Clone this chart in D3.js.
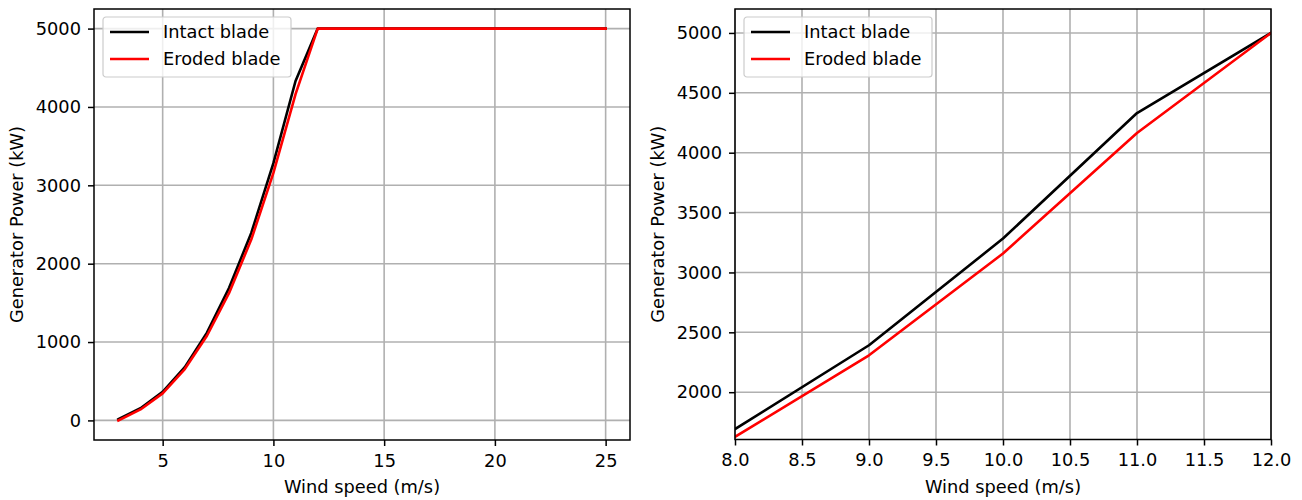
<!DOCTYPE html>
<html>
<head>
<meta charset="utf-8">
<script src="https://cdn.jsdelivr.net/npm/d3@7"></script>
<style>
  body { margin: 0; background: #fff; }
  svg { display: block; font-family: "DejaVu Sans", sans-serif; }
</style>
</head>
<body>
<div id="chart"></div>
<script>
// wind speed samples (m/s)
const windSpeed = [3, 4, 5, 6, 7, 8, 9, 10, 11, 12, 13, 14, 15, 16, 17, 18, 19, 20, 21, 22, 23, 24, 25];

// generator power (kW)
const intactPower = [15, 155, 365, 680, 1120, 1692, 2392, 3283, 4331, 5000, 5000, 5000, 5000, 5000, 5000, 5000, 5000, 5000, 5000, 5000, 5000, 5000, 5000];
const erodedPower = [0, 140, 345, 655, 1080, 1627, 2308, 3158, 4164, 5000, 5000, 5000, 5000, 5000, 5000, 5000, 5000, 5000, 5000, 5000, 5000, 5000, 5000];

const seriesNames = ["Intact blade", "Eroded blade"];
const seriesColors = ["#000000", "#ff0000"];

const leftXTicks = [5, 10, 15, 20, 25];
const leftYTicks = [0, 1000, 2000, 3000, 4000, 5000];
const rightXTicks = [8.0, 8.5, 9.0, 9.5, 10.0, 10.5, 11.0, 11.5, 12.0];
const rightYTicks = [2000, 2500, 3000, 3500, 4000, 4500, 5000];

const W = 1302, H = 500;
const FONT = 17.8;

const svg = d3.select("#chart").append("svg")
    .attr("width", W)
    .attr("height", H);

const series = [
    { name: seriesNames[0], color: seriesColors[0], values: intactPower },
    { name: seriesNames[1], color: seriesColors[1], values: erodedPower }
];

function drawPanel(box, xDomain, yDomain, xTicks, yTicks, xFmt) {
    const x = d3.scaleLinear().domain(xDomain).range([box.left, box.right]);
    const y = d3.scaleLinear().domain(yDomain).range([box.bottom, box.top]);

    const clipId = "clip" + box.left;
    svg.append("defs").append("clipPath").attr("id", clipId)
        .append("rect")
        .attr("x", box.left).attr("y", box.top)
        .attr("width", box.right - box.left)
        .attr("height", box.bottom - box.top);

    // grid
    const grid = svg.append("g").attr("stroke", "#b0b0b0").attr("stroke-width", 1.6);
    grid.selectAll(".gx").data(xTicks).enter().append("line")
        .attr("x1", d => x(d)).attr("x2", d => x(d))
        .attr("y1", box.top).attr("y2", box.bottom);
    grid.selectAll(".gy").data(yTicks).enter().append("line")
        .attr("x1", box.left).attr("x2", box.right)
        .attr("y1", d => y(d)).attr("y2", d => y(d));

    // curves
    const line = d3.line()
        .x((d, i) => x(windSpeed[i]))
        .y(d => y(d));
    svg.append("g").attr("clip-path", `url(#${clipId})`)
        .selectAll("path").data(series).enter().append("path")
        .attr("d", d => line(d.values))
        .attr("fill", "none")
        .attr("stroke", d => d.color)
        .attr("stroke-width", 2.6)
        .attr("stroke-linecap", "square")
        .attr("stroke-linejoin", "round");

    // axes
    const xAxis = svg.append("g")
        .attr("transform", `translate(0,${box.bottom})`)
        .call(d3.axisBottom(x).tickValues(xTicks).tickFormat(xFmt).tickSize(6).tickPadding(8).tickSizeOuter(0));
    const yAxis = svg.append("g")
        .attr("transform", `translate(${box.left},0)`)
        .call(d3.axisLeft(y).tickValues(yTicks).tickFormat(d3.format("d")).tickSize(6).tickPadding(7).tickSizeOuter(0));
    [xAxis, yAxis].forEach(a => {
        a.select(".domain").remove();
        a.selectAll("line").attr("stroke", "#000").attr("stroke-width", 1.5);
        a.selectAll("text").attr("fill", "#000")
            .style("font-family", "DejaVu Sans").style("font-size", FONT + "px");
    });

    // spines
    svg.append("rect")
        .attr("x", box.left).attr("y", box.top)
        .attr("width", box.right - box.left)
        .attr("height", box.bottom - box.top)
        .attr("fill", "none")
        .attr("stroke", "#000")
        .attr("stroke-width", 1.5);

    // labels
    svg.append("text")
        .attr("x", (box.left + box.right) / 2)
        .attr("y", 493)
        .attr("text-anchor", "middle")
        .style("font-size", FONT + "px")
        .text("Wind speed (m/s)");
    svg.append("text")
        .attr("transform", `translate(${box.left - 71},${(box.top + box.bottom) / 2}) rotate(-90)`)
        .attr("text-anchor", "middle")
        .style("font-size", FONT + "px")
        .text("Generator Power (kW)");

    // legend
    const lg = svg.append("g").attr("transform", `translate(${box.left + 9},${box.top + 8})`);
    lg.append("rect")
        .attr("width", 188).attr("height", 60)
        .attr("rx", 3)
        .attr("fill", "#fff").attr("fill-opacity", 0.8)
        .attr("stroke", "#cccccc").attr("stroke-width", 1.2);
    series.forEach((s, i) => {
        const yy = 15 + i * 27;
        lg.append("line")
            .attr("x1", 7).attr("x2", 46)
            .attr("y1", yy).attr("y2", yy)
            .attr("stroke", s.color).attr("stroke-width", 2.6);
        lg.append("text")
            .attr("x", 60).attr("y", yy)
            .attr("dy", "0.36em")
            .style("font-size", FONT + "px")
            .text(s.name);
    });
}

drawPanel({ left: 94, right: 630, top: 9, bottom: 440 },
    [1.9, 26.1], [-250, 5250], leftXTicks, leftYTicks, d3.format("d"));
drawPanel({ left: 735, right: 1271, top: 9, bottom: 439.5 },
    [8, 12], [1605, 5200], rightXTicks, rightYTicks, d3.format(".1f"));
</script>
</body>
</html>
